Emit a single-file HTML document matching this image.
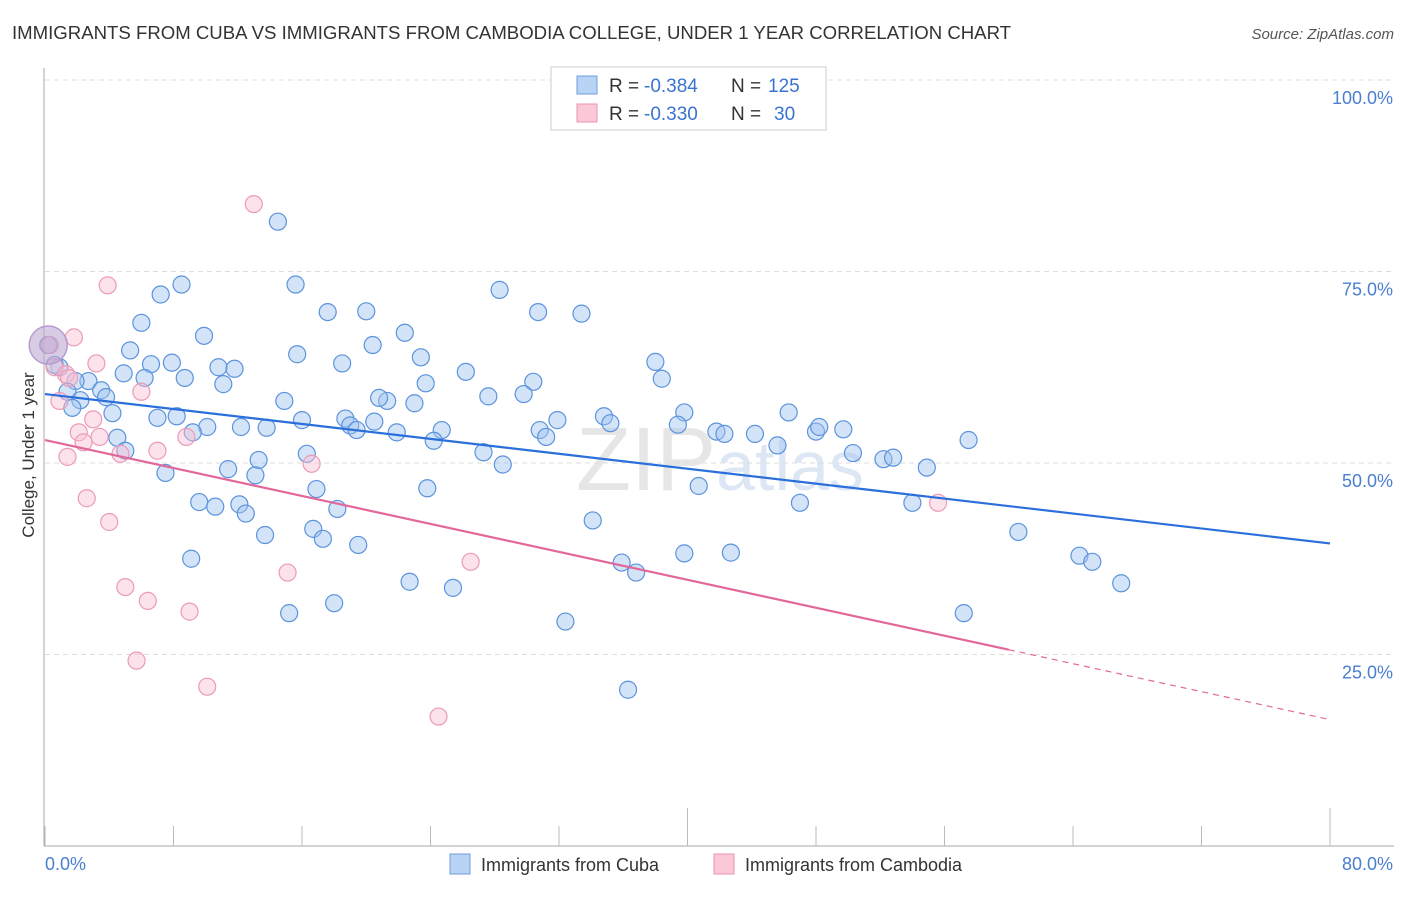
<!DOCTYPE html>
<html><head><meta charset="utf-8"><style>
body{margin:0;background:#fff;font-family:"Liberation Sans",sans-serif;}
svg text{font-family:"Liberation Sans",sans-serif;}
</style></head><body>
<svg id="chart" width="1406" height="892" xmlns="http://www.w3.org/2000/svg">
<text x="12" y="39" font-size="18.6" fill="#333">IMMIGRANTS FROM CUBA VS IMMIGRANTS FROM CAMBODIA COLLEGE, UNDER 1 YEAR CORRELATION CHART</text>
<text x="1394" y="39" font-size="15" fill="#555" text-anchor="end" font-style="italic">Source: ZipAtlas.com</text>
<text x="720" y="490" font-size="90" fill="#e6e6e6" text-anchor="middle" font-family="Liberation Serif">ZIP<tspan fill="#dce6f4" font-family="Liberation Sans" font-size="70">atlas</tspan></text>
<g id="grid"></g>
<g id="axes"></g>
<g id="marks"></g>
<text transform="translate(34,455) rotate(-90)" font-size="17" fill="#333" text-anchor="middle">College, Under 1 year</text>
<g>
<rect x="551" y="67" width="275" height="63" fill="#fff" stroke="#ccc"/>
<rect x="577" y="76" width="20" height="18" fill="#b9d3f5" stroke="#6f9ee0"/>
<text x="609" y="92" font-size="19" fill="#333">R =</text>
<text x="644" y="92" font-size="19" fill="#3b73d0">-0.384</text>
<text x="731" y="92" font-size="19" fill="#333">N =</text>
<text x="768" y="92" font-size="19" fill="#3b73d0">125</text>
<rect x="577" y="104" width="20" height="18" fill="#fbc8d8" stroke="#e893b0"/>
<text x="609" y="120" font-size="19" fill="#333">R =</text>
<text x="644" y="120" font-size="19" fill="#3b73d0">-0.330</text>
<text x="731" y="120" font-size="19" fill="#333">N =</text>
<text x="774" y="120" font-size="19" fill="#3b73d0">30</text>
</g>
<g>
<rect x="450" y="854" width="20" height="20" fill="#b9d3f5" stroke="#6f9ee0"/>
<text x="481" y="871" font-size="18" fill="#333">Immigrants from Cuba</text>
<rect x="714" y="854" width="20" height="20" fill="#fbc8d8" stroke="#e893b0"/>
<text x="745" y="871" font-size="18" fill="#333">Immigrants from Cambodia</text>
</g>
</svg>
<script>
const yTicks=[25,50,75,100];
const yTickLabels=["25.0%","50.0%","75.0%","100.0%"];
const xTickLabels=["0.0%","80.0%"];
const cubaX=[14.5,8.5,7.2,15.6,6.0,9.9,17.6,20.0,28.3,30.7,33.4,22.4,5.3,15.7,20.4,23.4,18.5,6.6,7.9,10.8,11.8,4.9,6.2,8.7,11.1,2.7,3.5,1.9,1.4,2.2,3.8,4.2,1.7,0.9,0.6,26.2,23.7,30.4,38.0,38.4,14.9,21.3,23.0,20.8,27.6,29.8,7.0,8.2,16.0,18.7,19.0,19.4,20.5,21.9,24.7,24.2,30.8,31.2,31.9,34.8,35.2,10.1,12.2,13.8,9.2,39.8,39.4,41.8,42.3,44.2,46.3,48.0,48.2,49.7,4.5,5.0,7.5,11.4,13.1,13.3,16.3,27.3,28.5,45.6,50.3,52.2,52.8,54.9,57.5,9.6,10.6,12.1,12.5,13.7,16.9,16.7,17.3,18.2,19.5,23.8,34.1,40.7,47.0,54.0,60.6,64.4,65.2,67.0,9.1,15.2,18.0,22.7,25.4,32.4,35.9,36.8,39.8,42.7,36.3,57.2,0.2];
const cubaY=[81.5,73.3,72.0,73.3,68.3,66.6,69.7,69.8,72.6,69.7,69.5,67.0,64.7,64.2,65.4,63.8,63.0,62.9,63.1,62.5,62.3,61.7,61.1,61.1,60.3,60.7,59.5,60.7,59.3,58.2,58.6,56.5,57.2,62.5,62.8,61.9,60.4,60.6,63.2,61.0,58.1,58.1,57.8,58.5,58.7,59.0,55.9,56.1,55.6,55.8,54.9,54.3,55.4,54.0,54.3,52.9,54.3,53.4,55.6,56.1,55.2,54.7,54.7,54.6,54.0,56.6,55.0,54.1,53.8,53.8,56.6,54.1,54.7,54.4,53.3,51.6,48.7,49.2,48.4,50.4,51.2,51.4,49.8,52.3,51.3,50.5,50.7,49.4,53.0,44.9,44.3,44.6,43.4,40.6,46.6,41.4,40.1,44.0,39.3,46.7,42.5,47.0,44.8,44.8,41.0,37.9,37.1,34.3,37.5,30.4,31.7,34.5,33.7,29.3,37.0,35.7,38.2,38.3,20.4,30.4,65.4];
const camX=[13.0,3.9,1.8,3.2,0.6,1.3,1.5,0.9,6.0,3.0,3.4,2.1,2.4,8.8,7.0,4.7,1.4,16.6,2.6,4.0,5.0,6.4,9.0,15.1,26.5,55.6,5.7,10.1,24.5,0.3];
const camY=[83.8,73.2,66.4,63.0,62.5,61.6,61.1,58.1,59.3,55.7,53.4,54.0,52.7,53.4,51.6,51.2,50.8,49.9,45.4,42.3,33.8,32.0,30.6,35.7,37.1,44.8,24.2,20.8,16.9,65.4];
const cubaTrend=[59.0,39.5];
const camTrend=[53.0,16.5];
const NS="http://www.w3.org/2000/svg";
const X0=45,X1=1330,Y0=846,Y100=80;
const xs=v=>X0+(v/80)*(X1-X0);
const ys=v=>Y0-(v/100)*(Y0-Y100);
function mk(tag,attrs,parent){const e=document.createElementNS(NS,tag);for(const k in attrs)e.setAttribute(k,attrs[k]);parent.appendChild(e);return e;}
const grid=document.getElementById('grid'),axes=document.getElementById('axes'),marks=document.getElementById('marks');
yTicks.forEach((t,i)=>{
const l=mk('line',{x1:45,x2:1394,y1:ys(t),y2:ys(t),stroke:'#ddd','stroke-dasharray':'5,4'},grid);


const tx=mk('text',{x:1393,y:ys(t)+24,'font-size':18,fill:'#4a7fd0','text-anchor':'end'},grid);
tx.textContent=yTickLabels[i];


});
const ax=mk('line',{x1:44,x2:44,y1:68,y2:846,stroke:'#aaa'},axes);


const bx=mk('line',{x1:44,x2:1394,y1:846,y2:846,stroke:'#aaa'},axes);


for(let i=0;i<=10;i++){
const x=xs(i*8);const major=(i==5||i==10);
const tk=mk('line',{x1:x,x2:x,y1:major?808:826,y2:846,stroke:'#bbb'},axes);


}
[[0,'start',45],[80,'end',1393]].forEach((a,i)=>{
const t=mk('text',{x:a[2],y:870,'font-size':18,fill:'#4a7fd0','text-anchor':a[1]},axes);
t.textContent=xTickLabels[i];


});
cubaX.forEach((v,i)=>{
const c=mk('circle',{cx:xs(v),cy:ys(cubaY[i]),r:8.5,fill:'rgba(160,196,240,0.45)',stroke:'#5b93dd','stroke-width':1.2},marks);


});
camX.forEach((v,i)=>{
const c=mk('circle',{cx:xs(v),cy:ys(camY[i]),r:8.5,fill:'rgba(248,190,210,0.45)',stroke:'#ec9ab7','stroke-width':1.2},marks);


});
const big=mk('circle',{cx:xs(0.2),cy:ys(65.4),r:19,fill:'rgba(190,170,210,0.6)',stroke:'#b79ad0','stroke-width':1.5},marks);


const t1=mk('line',{x1:xs(0),y1:ys(cubaTrend[0]),x2:xs(80),y2:ys(cubaTrend[1]),stroke:'#2a6fdb','stroke-width':2.2},marks);


const split=60;
const camAt=v=>camTrend[0]+(camTrend[1]-camTrend[0])*v/80;
const t2=mk('line',{x1:xs(0),y1:ys(camTrend[0]),x2:xs(split),y2:ys(camAt(split)),stroke:'#e2679a','stroke-width':2.2},marks);


const t3=mk('line',{x1:xs(split),y1:ys(camAt(split)),x2:xs(80),y2:ys(camTrend[1]),stroke:'#e2679a','stroke-width':1.2,'stroke-dasharray':'6,5'},marks);


</script>
</body></html>
